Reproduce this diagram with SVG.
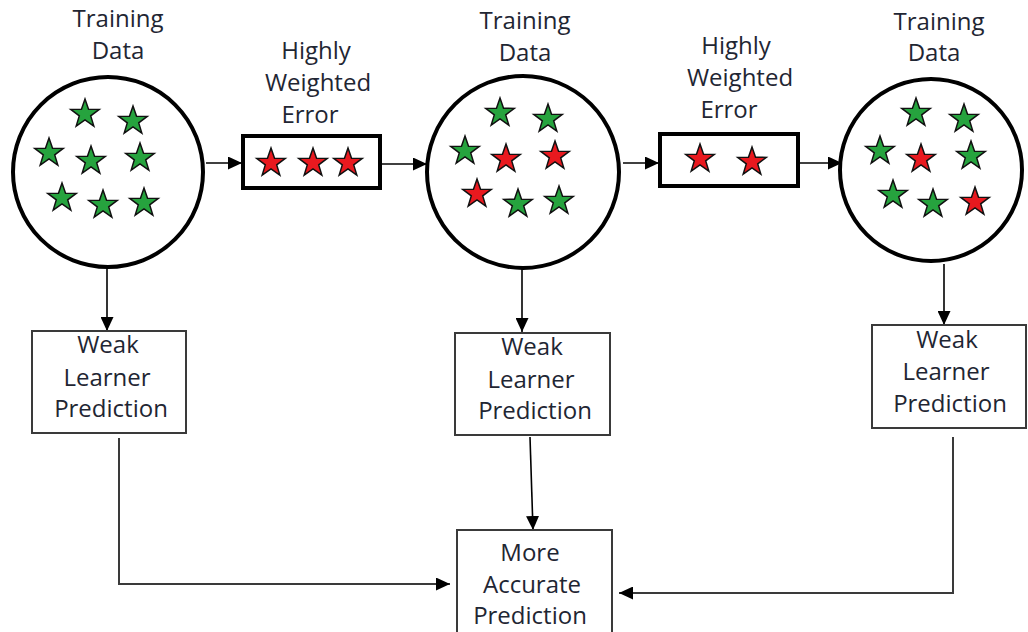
<svg xmlns="http://www.w3.org/2000/svg" xmlns:xlink="http://www.w3.org/1999/xlink" width="1028" height="632" viewBox="0 0 1028 632">
  <style>
    .lbl { font-family: "Open Sans", "Liberation Sans", sans-serif; font-size: 24px; fill: #1f2633; text-anchor: middle; }
    .pool { fill: #ffffff; stroke: #000000; stroke-width: 4; }
    .err { fill: #ffffff; stroke: #000000; stroke-width: 4; }
    .box { fill: #ffffff; stroke: #3a3a3a; stroke-width: 2; }
    .g { fill: #26a33e; }
    .r { fill: #e8191f; }
    .edge { fill: none; stroke: #000000; stroke-width: 1.6; }
    .edge2 { fill: none; stroke: #3a3a3a; stroke-width: 2; }
  </style>
  <defs>
    <path id="star" stroke="#111111" stroke-width="1.5" stroke-linejoin="miter"
          d="M0,-15 L3.53,-4.85 L14.27,-4.64 L5.71,1.85 L8.82,12.14 L0,6 L-8.82,12.14 L-5.71,1.85 L-14.27,-4.64 L-3.53,-4.85 Z"/>
    <marker id="arrow" markerUnits="userSpaceOnUse" markerWidth="14" markerHeight="13" refX="14" refY="6.5" orient="auto">
      <path d="M0,0 L14,6.5 L0,13 Z" fill="#000000"/>
    </marker>
  </defs>

  <rect width="1028" height="632" fill="#ffffff"/>

  <!-- connectors -->
  <g id="connectors">
    <path class="edge" d="M206,163 H242" marker-end="url(#arrow)"/>
    <path class="edge" d="M382,164 H427" marker-end="url(#arrow)"/>
    <path class="edge" d="M623,163 H659" marker-end="url(#arrow)"/>
    <path class="edge" d="M800,163 H842" marker-end="url(#arrow)"/>
    <path class="edge" d="M107,268 V331" marker-end="url(#arrow)"/>
    <path class="edge" d="M522,268 V332" marker-end="url(#arrow)"/>
    <path class="edge" d="M944,264 V325" marker-end="url(#arrow)"/>
    <path class="edge2" d="M119,438 V584 H450" marker-end="url(#arrow)"/>
    <path class="edge" d="M530,437 L533,530" marker-end="url(#arrow)"/>
    <path class="edge2" d="M953,437 V593 H619" marker-end="url(#arrow)"/>
  </g>

  <!-- training data pool 1 -->
  <g id="data1">
    <text class="lbl" x="118" y="27">Training</text>
    <text class="lbl" x="118" y="59">Data</text>
    <circle class="pool" cx="108" cy="172" r="95"/>
    <use xlink:href="#star" class="g" x="85" y="114"/>
    <use xlink:href="#star" class="g" x="133" y="121"/>
    <use xlink:href="#star" class="g" x="49" y="153"/>
    <use xlink:href="#star" class="g" x="91" y="161"/>
    <use xlink:href="#star" class="g" x="140" y="158"/>
    <use xlink:href="#star" class="g" x="62" y="198"/>
    <use xlink:href="#star" class="g" x="103" y="205"/>
    <use xlink:href="#star" class="g" x="144" y="203"/>
  </g>

  <!-- weighted error 1 -->
  <g id="error1">
    <text class="lbl" x="316" y="59">Highly</text>
    <text class="lbl" x="318" y="91">Weighted</text>
    <text class="lbl" x="310" y="123">Error</text>
    <rect class="err" x="243" y="136" width="137" height="52"/>
    <use xlink:href="#star" class="r" x="271" y="163"/>
    <use xlink:href="#star" class="r" x="313" y="163"/>
    <use xlink:href="#star" class="r" x="348" y="163"/>
  </g>

  <!-- training data pool 2 -->
  <g id="data2">
    <text class="lbl" x="525" y="29">Training</text>
    <text class="lbl" x="525" y="61">Data</text>
    <circle class="pool" cx="523" cy="172" r="96"/>
    <use xlink:href="#star" class="g" x="500" y="113"/>
    <use xlink:href="#star" class="g" x="548" y="119"/>
    <use xlink:href="#star" class="g" x="465" y="151"/>
    <use xlink:href="#star" class="r" x="506" y="159"/>
    <use xlink:href="#star" class="r" x="555" y="156"/>
    <use xlink:href="#star" class="r" x="477" y="194"/>
    <use xlink:href="#star" class="g" x="518" y="204"/>
    <use xlink:href="#star" class="g" x="559" y="201"/>
  </g>

  <!-- weighted error 2 -->
  <g id="error2">
    <text class="lbl" x="736" y="54">Highly</text>
    <text class="lbl" x="740" y="86">Weighted</text>
    <text class="lbl" x="729" y="118">Error</text>
    <rect class="err" x="660" y="134" width="138" height="52"/>
    <use xlink:href="#star" class="r" x="700" y="159"/>
    <use xlink:href="#star" class="r" x="752" y="162"/>
  </g>

  <!-- training data pool 3 -->
  <g id="data3">
    <text class="lbl" x="939" y="30">Training</text>
    <text class="lbl" x="934" y="61">Data</text>
    <circle class="pool" cx="931" cy="170" r="91"/>
    <use xlink:href="#star" class="g" x="916" y="113"/>
    <use xlink:href="#star" class="g" x="964" y="119"/>
    <use xlink:href="#star" class="g" x="880" y="151"/>
    <use xlink:href="#star" class="r" x="921" y="159"/>
    <use xlink:href="#star" class="g" x="971" y="156"/>
    <use xlink:href="#star" class="g" x="893" y="195"/>
    <use xlink:href="#star" class="g" x="933" y="204"/>
    <use xlink:href="#star" class="r" x="975" y="202"/>
  </g>

  <!-- weak learners -->
  <g id="learner1">
    <rect class="box" x="32" y="331" width="154" height="102"/>
    <text class="lbl" x="108" y="353">Weak</text>
    <text class="lbl" x="107" y="386">Learner</text>
    <text class="lbl" x="111" y="417">Prediction</text>
  </g>
  <g id="learner2">
    <rect class="box" x="455" y="333" width="155" height="102"/>
    <text class="lbl" x="532" y="355">Weak</text>
    <text class="lbl" x="531" y="388">Learner</text>
    <text class="lbl" x="535" y="419">Prediction</text>
  </g>
  <g id="learner3">
    <rect class="box" x="872" y="325" width="154" height="103"/>
    <text class="lbl" x="947" y="348">Weak</text>
    <text class="lbl" x="946" y="380">Learner</text>
    <text class="lbl" x="950" y="412">Prediction</text>
  </g>

  <!-- combined result -->
  <g id="combined">
    <rect class="box" x="457" y="530" width="155" height="106"/>
    <text class="lbl" x="530" y="561">More</text>
    <text class="lbl" x="532" y="593">Accurate</text>
    <text class="lbl" x="530" y="624">Prediction</text>
  </g>
</svg>
